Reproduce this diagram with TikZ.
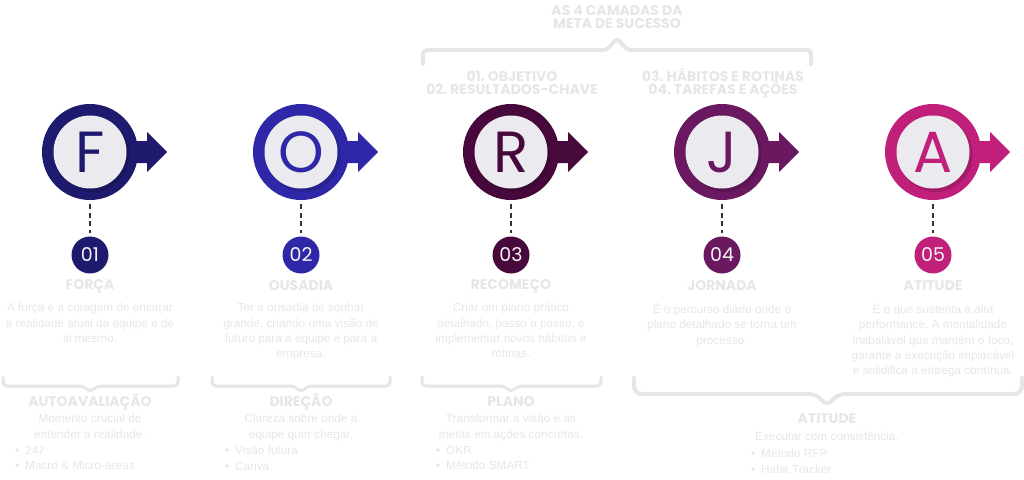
\documentclass[tikz,border=0pt]{standalone}
\usepackage{fontspec}
\setmainfont{Liberation Sans}
\newfontfamily\headfont{Poppins}
\usetikzlibrary{positioning}
\frenchspacing

\definecolor{forca}{HTML}{1E1A6E}
\definecolor{ousadia}{HTML}{2E28A8}
\definecolor{recomeco}{HTML}{47093C}
\definecolor{jornada}{HTML}{6A1860}
\definecolor{atitude}{HTML}{C01F7A}
\definecolor{inner}{HTML}{EBEBEF}
\definecolor{faint}{HTML}{E6E6E6}

\tikzset{
  ring/.style={circle, minimum size=96pt, inner sep=0pt, fill=#1},
  shade/.style={circle, minimum size=74pt, inner sep=0pt, fill=#1!60!black, opacity=.35},
  face/.style={circle, minimum size=73pt, inner sep=0pt, fill=inner, text=#1,
    font=\headfont\fontsize{58}{58}\selectfont},
  badge/.style={circle, minimum size=37pt, inner sep=0pt, fill=#1, text=white!92!gray,
    font=\headfont\fontsize{19}{19}\selectfont},
  title/.style={text=faint, inner sep=0pt, align=center,
    font=\headfont\bfseries\fontsize{14}{14}\selectfont},
  desc/.style={text=faint, inner sep=0pt, align=center, anchor=north,
    font=\fontsize{11.8}{15.3}\selectfont},
  items/.style={text=faint, inner sep=0pt, align=left, anchor=north west,
    font=\fontsize{11.8}{15.3}\selectfont},
  brace/.style={draw=faint, line width=3pt, rounded corners=4pt, line cap=round},
  link/.style={draw=black!80, dash pattern=on 5pt off 3.5pt, line width=1.2pt},
}
\newcommand{\dotitem}{\makebox[10pt][l]{\textbullet}}

\begin{document}
\begin{tikzpicture}[x=1pt, y=-1pt]
  \useasboundingbox (0,0) rectangle (1024,479);

  % top heading
  \node[title] (layers) at (617,17) {AS 4 CAMADAS DA\\[-1.5pt]META DE SUCESSO};
  \draw[brace, line width=4pt] (423,64) -- (423,50) -- (607,50) -- (617,38) -- (627,50) -- (811,50) -- (811,64);
  \node[title] (okr) at (512,83) {01. OBJETIVO\\[-1.5pt]02. RESULTADOS-CHAVE};
  \node[title] (habits) at (723,83) {03. HÁBITOS E ROTINAS\\[-1.5pt]04. TAREFAS E AÇÕES};

  % letters
  \foreach \x/\l/\n/\c [count=\i] in {90/F/01/forca, 301/O/02/ousadia, 511/R/03/recomeco, 722/J/04/jornada, 933/A/05/atitude}{
    \fill[\c] (\x+40,141) -- (\x+57,141) -- (\x+57,132) -- (\x+77,152) -- (\x+57,172) -- (\x+57,163) -- (\x+40,163) -- cycle;
    \node[ring=\c] (ring\i) at (\x,152) {};
    \node[shade=\c] (shade\i) at (\x+2.5,155) {};
    \node[face=\c] (face\i) at (\x,152) {\l};
    \node[badge=\c] (badge\i) at (\x,255) {\n};
    \draw[link] ([yshift=-4pt]ring\i.south) -- ([yshift=3pt]badge\i.north);
  }

  % pillars
  \node[title] (forca) at (90,286) {FORÇA};
  \node[desc] (forcatxt) at (90,303) {A força e a coragem de encarar\\a realidade atual da equipe e de\\si mesmo.};
  \node[title] (ousadia) at (301,286) {OUSADIA};
  \node[desc] (ousadiatxt) at (301,303) {Ter a ousadia de sonhar\\grande, criando uma visão de\\futuro para a equipe e para a\\empresa.};
  \node[title] (recomeco) at (511,286) {RECOMEÇO};
  \node[desc] (recomecotxt) at (511,303) {Criar um plano prático\\detalhado, passo a passo, e\\implementar novos hábitos e\\rotinas.};
  \node[title] (jornada) at (722,286) {JORNADA};
  \node[desc] (jornadatxt) at (722,303) {É o percurso diário onde o\\plano detalhado se torna um\\processo.};
  \node[title] (atitude) at (933,286) {ATITUDE};
  \node[desc] (atitudetxt) at (933,303) {É o que sustenta a alta\\performance. A mentalidade\\inabalável que mantém o foco,\\garante a execução implacável\\e solidifica a entrega contínua.};

  % braces below
  \draw[brace] (3,377) -- (3,386) -- (83,386) -- (90,392) -- (97,386) -- (178,386) -- (178,377);
  \draw[brace] (212,377) -- (212,386) -- (294,386) -- (301,392) -- (308,386) -- (390,386) -- (390,377);
  \draw[brace] (422,377) -- (422,386) -- (504,386) -- (511,392) -- (518,386) -- (601,386) -- (601,377);
  \draw[brace, line width=4pt, rounded corners=8pt] (634,378) -- (634,394) -- (817,394) -- (827,407) -- (837,394) -- (1022,394) -- (1022,378);

  % stages
  \node[title] (auto) at (90,402) {AUTOAVALIAÇÃO};
  \node[desc] (autotxt) at (90,414) {Momento crucial de\\entender a realidade.};
  \node[items] (autolist) at (15,446) {\dotitem 247\\\dotitem Macro \& Micro-áreas};
  \node[title] (direcao) at (301,402) {DIREÇÃO};
  \node[desc] (direcaotxt) at (301,414) {Clareza sobre onde a\\equipe quer chegar.};
  \node[items] (direcaolist) at (225,446) {\dotitem Visão futura\\\dotitem Canva};
  \node[title] (plano) at (511,402) {PLANO};
  \node[desc] (planotxt) at (511,414) {Transformar a visão e as\\metas em ações concretas.};
  \node[items] (planolist) at (436,446) {\dotitem OKR\\\dotitem Método SMART};
  \node[title] (execucao) at (827,419) {ATITUDE};
  \node[desc] (execucaotxt) at (827,432) {Executar com consistência.};
  \node[items] (execucaolist) at (751,449) {\dotitem Método RFP\\\dotitem Habit Tracker};
\end{tikzpicture}
\end{document}
